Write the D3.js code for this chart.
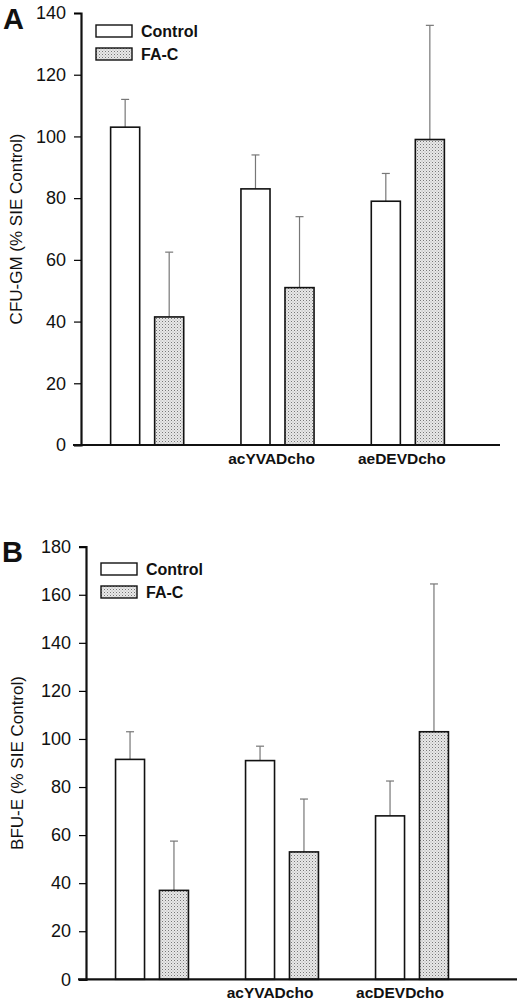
<!DOCTYPE html>
<html>
<head>
<meta charset="utf-8">
<script src="https://cdn.jsdelivr.net/npm/d3@7"></script>
<style>
  body { margin: 0; background: #fff; }
  svg { display: block; font-family: "Liberation Sans", Arial, sans-serif; }
</style>
</head>
<body>
<svg id="chart" width="520" height="1000"></svg>
<script>
/* groups along the x axis; the first group has no label */
var groups = ['SIE', 'acYVADcho', 'acDEVDcho']
var series = ['Control', 'FA-C']

/* panel A: CFU-GM */
var cfuLabels = ['', 'acYVADcho', 'aeDEVDcho']
var cfuControl = [103, 83, 79]
var cfuControlSd = [9, 11, 9]
var cfuFac = [41.5, 51, 99]
var cfuFacSd = [21, 23, 37]
var cfuTicks = [0, 20, 40, 60, 80, 100, 120, 140]

/* panel B: BFU-E */
var bfuLabels = ['', 'acYVADcho', 'acDEVDcho']
var bfuControl = [91.5, 91, 68]
var bfuControlSd = [11.5, 6, 14.5]
var bfuFac = [37, 53, 103]
var bfuFacSd = [20.5, 22, 61.5]
var bfuTicks = [0, 20, 40, 60, 80, 100, 120, 140, 160, 180]

var svg = d3.select('#chart')

/* stipple pattern for the FA-C bars */
var pat = svg.append('defs').append('pattern')
	.attr('id', 'dots')
	.attr('patternUnits', 'userSpaceOnUse')
	.attr('width', 3).attr('height', 3)
pat.append('rect').attr('width', 3).attr('height', 3).attr('fill', '#e8e8e8')
pat.append('rect').attr('x', 0).attr('y', 0).attr('width', 1).attr('height', 1).attr('fill', '#777')
pat.append('rect').attr('x', 1.5).attr('y', 1.5).attr('width', 1).attr('height', 1).attr('fill', '#a8a8a8')

function fillOf(s) { return s == 'Control' ? '#fff' : 'url(#dots)' }

/**
 * Draws one panel: axes, bars with upward error bars, legend and labels
 */
function drawPanel(p) {
	var g = svg.append('g')

	var y = d3.scaleLinear().domain([0, p.ticks[p.ticks.length - 1]]).range([p.bottom, p.top])
	var x0 = d3.scaleBand().domain(groups).range([p.left, p.right])
	var x1 = d3.scaleBand().domain(series).range([0, x0.bandwidth()])
		.paddingInner(0.34).paddingOuter(0.65)

	var rows = []
	groups.forEach(function(grp, i) {
		rows.push({ group: grp, s: 'Control', v: p.control[i], sd: p.controlSd[i] })
		rows.push({ group: grp, s: 'FA-C', v: p.fac[i], sd: p.facSd[i] })
	})
	function cx(d) { return x0(d.group) + x1(d.s) + x1.bandwidth() / 2 }

	/* error bars (drawn first, so the bar outline sits on top) */
	var err = g.selectAll('.err').data(rows).enter().append('g')
		.attr('stroke', '#777').attr('stroke-width', 1.2)
	err.append('line')
		.attr('x1', cx).attr('x2', cx)
		.attr('y1', function(d) { return y(d.v) })
		.attr('y2', function(d) { return y(d.v + d.sd) })
	err.append('line')
		.attr('x1', function(d) { return cx(d) - 4 }).attr('x2', function(d) { return cx(d) + 4 })
		.attr('y1', function(d) { return y(d.v + d.sd) })
		.attr('y2', function(d) { return y(d.v + d.sd) })

	g.selectAll('.bar').data(rows).enter().append('rect')
		.attr('x', function(d) { return x0(d.group) + x1(d.s) })
		.attr('width', x1.bandwidth())
		.attr('y', function(d) { return y(d.v) })
		.attr('height', function(d) { return y(0) - y(d.v) })
		.attr('fill', function(d) { return fillOf(d.s) })
		.attr('stroke', '#111').attr('stroke-width', 1.6)

	/* y axis */
	var yAxis = g.append('g').attr('transform', 'translate(' + p.axisX + ',0)')
		.call(d3.axisLeft(y).tickValues(p.ticks).tickSize(7).tickPadding(8))
	yAxis.select('.domain').attr('stroke-width', 2.2).attr('stroke', '#111')
	yAxis.selectAll('.tick line').attr('stroke-width', 1.2)
	yAxis.selectAll('text').attr('font-size', 18).attr('fill', '#111')
		.attr('font-family', '"Liberation Sans", Arial, sans-serif')

	/* x axis line */
	g.append('line')
		.attr('x1', p.axisX - 8).attr('x2', p.xEnd)
		.attr('y1', y(0)).attr('y2', y(0))
		.attr('stroke', '#111').attr('stroke-width', 2.2)

	/* group labels */
	g.selectAll('.glabel').data(groups).enter().append('text')
		.attr('x', function(d) { return x0(d) + x0.bandwidth() / 2 + p.labelShift })
		.attr('y', p.labelY)
		.attr('text-anchor', 'middle')
		.attr('font-size', 15.5).attr('font-weight', 'bold').attr('fill', '#111')
		.text(function(d, i) { return p.labels[i] })

	/* axis title */
	g.append('text')
		.attr('transform', 'translate(' + p.titleX + ',' + (y(0) + y.range()[1]) / 2 + ') rotate(-90)')
		.attr('text-anchor', 'middle')
		.attr('font-size', 17).attr('fill', '#111')
		.text(p.title)

	/* panel letter */
	g.append('text')
		.attr('x', p.letterX).attr('y', p.letterY)
		.attr('font-size', 29).attr('font-weight', 'bold').attr('fill', '#111')
		.text(p.letter)

	/* legend */
	var leg = g.selectAll('.leg').data(series).enter().append('g')
		.attr('transform', function(d, i) { return 'translate(' + p.legX + ',' + (p.legY + i * 23) + ')' })
	leg.append('rect')
		.attr('width', 36).attr('height', 12)
		.attr('fill', fillOf).attr('stroke', '#111').attr('stroke-width', 1.4)
	leg.append('text')
		.attr('x', 45).attr('y', 12)
		.attr('font-size', 16).attr('font-weight', 'bold').attr('fill', '#111')
		.text(function(d) { return d })
}

drawPanel({
	letter: 'A', letterX: 3, letterY: 29,
	title: 'CFU-GM (% SIE Control)', titleX: 22,
	labels: cfuLabels, ticks: cfuTicks,
	control: cfuControl, controlSd: cfuControlSd, fac: cfuFac, facSd: cfuFacSd,
	top: 13, bottom: 445, axisX: 81, xEnd: 500,
	left: 82, right: 473, labelY: 464, labelShift: -6,
	legX: 96, legY: 25
})

drawPanel({
	letter: 'B', letterX: 2, letterY: 562,
	title: 'BFU-E (% SIE Control)', titleX: 23,
	labels: bfuLabels, ticks: bfuTicks,
	control: bfuControl, controlSd: bfuControlSd, fac: bfuFac, facSd: bfuFacSd,
	top: 546.7, bottom: 979.3, axisX: 86, xEnd: 517,
	left: 87, right: 477, labelY: 998, labelShift: -12,
	legX: 101, legY: 563
})
</script>
</body>
</html>
